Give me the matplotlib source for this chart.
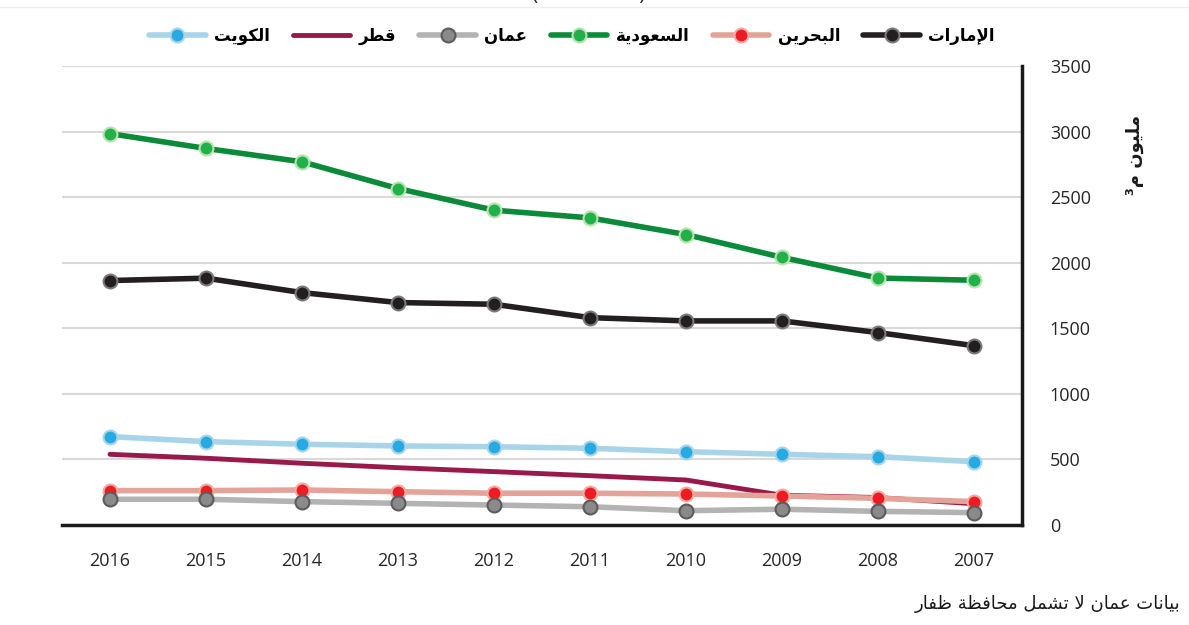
import re
import matplotlib
matplotlib.use("Agg")
import matplotlib.pyplot as plt
from matplotlib.lines import Line2D

# ---- data ----
years = ["2016", "2015", "2014", "2013", "2012", "2011", "2010", "2009", "2008", "2007"]
uae = [1863, 1881, 1771, 1695, 1682, 1580, 1555, 1555, 1466, 1366]
bahrain = [260, 260, 265, 252, 240, 240, 234, 219, 201, 176]
saudi = [2984, 2871, 2769, 2565, 2400, 2341, 2214, 2040, 1882, 1865]
oman = [194, 194, 176, 163, 150, 137, 107, 118, 102, 92]
qatar = [537, 507, 469, 435, 405, 374, 341, 225, 207, 160]
kuwait = [672, 634, 614, 601, 595, 583, 557, 537, 519, 481]

names = ["الإمارات", "البحرين", "السعودية", "عمان", "قطر", "الكويت"]
y_label = "مليون م³"
note = "بيانات عمان لا تشمل محافظة ظفار"
title = "(2016-2007)"

# ---- minimal arabic shaping (matplotlib has no complex text layout) ----
FORMS = {
    'ا': ('\uFE8D', '\uFE8E', None, None),
    'إ': ('\uFE87', '\uFE88', None, None),
    'ب': ('\uFE8F', '\uFE90', '\uFE91', '\uFE92'),
    'ة': ('\uFE93', '\uFE94', None, None),
    'ت': ('\uFE95', '\uFE96', '\uFE97', '\uFE98'),
    'ح': ('\uFEA1', '\uFEA2', '\uFEA3', '\uFEA4'),
    'د': ('\uFEA9', '\uFEAA', None, None),
    'ر': ('\uFEAD', '\uFEAE', None, None),
    'س': ('\uFEB1', '\uFEB2', '\uFEB3', '\uFEB4'),
    'ش': ('\uFEB5', '\uFEB6', '\uFEB7', '\uFEB8'),
    'ط': ('\uFEC1', '\uFEC2', '\uFEC3', '\uFEC4'),
    'ظ': ('\uFEC5', '\uFEC6', '\uFEC7', '\uFEC8'),
    'ع': ('\uFEC9', '\uFECA', '\uFECB', '\uFECC'),
    'ف': ('\uFED1', '\uFED2', '\uFED3', '\uFED4'),
    'ق': ('\uFED5', '\uFED6', '\uFED7', '\uFED8'),
    'ك': ('\uFED9', '\uFEDA', '\uFEDB', '\uFEDC'),
    'ل': ('\uFEDD', '\uFEDE', '\uFEDF', '\uFEE0'),
    'م': ('\uFEE1', '\uFEE2', '\uFEE3', '\uFEE4'),
    'ن': ('\uFEE5', '\uFEE6', '\uFEE7', '\uFEE8'),
    'و': ('\uFEED', '\uFEEE', None, None),
    'ي': ('\uFEF1', '\uFEF2', '\uFEF3', '\uFEF4'),
}
LAM_ALEF = {
    'ا': ('\uFEFB', '\uFEFC', None, None),
    'إ': ('\uFEF9', '\uFEFA', None, None),
}


def ar(text):
    units = []
    i = 0
    while i < len(text):
        c = text[i]
        if c == 'ل' and i + 1 < len(text) and text[i + 1] in LAM_ALEF:
            units.append(LAM_ALEF[text[i + 1]])
            i += 2
            continue
        units.append(FORMS.get(c, c))
        i += 1
    out = []
    for k, u in enumerate(units):
        if isinstance(u, str):
            out.append(u)
            continue
        prev = units[k - 1] if k > 0 else None
        nxt = units[k + 1] if k + 1 < len(units) else None
        jp = isinstance(prev, tuple) and prev[2] is not None
        jn = u[2] is not None and isinstance(nxt, tuple)
        if jp and jn:
            out.append(u[3])
        elif jp:
            out.append(u[1])
        elif jn:
            out.append(u[2])
        else:
            out.append(u[0])
    s = "".join(out)
    # visual order: reverse, keeping digit runs left-to-right
    tokens = re.findall(r'[0-9\u00B2\u00B3]+|.', s)
    return "".join(reversed(tokens))


AR_FONT = ['DejaVu Sans']

# ---- figure ----
fig = plt.figure(figsize=(11.89, 6.25), dpi=100)
ax = fig.add_axes([62 / 1189, 1 - 524.7 / 625, 960 / 1189, (524.7 - 66) / 625])

x = list(range(len(years)))
series = [
    (uae, '#231f20', '#231f20', '#7a7a7a', True),
    (bahrain, '#e3a398', '#ed1c24', '#f2aaa2', True),
    (saudi, '#0b8a3a', '#22b04b', '#b5e3ad', True),
    (oman, '#b3b3b3', '#8a8a8a', '#5c5c5c', True),
    (qatar, '#98194a', None, None, False),
    (kuwait, '#a8d4ea', '#27aae1', '#a8d4ea', True),
]
handles = []
for (vals, lc, fc, ec, mk), nm in zip(series, names):
    if mk:
        h, = ax.plot(x, vals, color=lc, lw=4, marker='o', ms=10,
                     markerfacecolor=fc, markeredgecolor=ec, markeredgewidth=1.5,
                     solid_capstyle='round', label=ar(nm), zorder=3)
    else:
        h, = ax.plot(x, vals, color=lc, lw=3.5, solid_capstyle='round',
                     label=ar(nm), zorder=2.5)
    handles.append(h)

ax.set_xlim(-0.5, len(years) - 0.5)
ax.set_ylim(0, 3500)
ax.set_yticks(range(0, 3501, 500))
ax.set_xticks(x)
ax.set_xticklabels(years)
ax.yaxis.tick_right()
ax.grid(axis='y', color='#d9d9d9', lw=1.5)
ax.set_axisbelow(True)
for side in ['top', 'left']:
    ax.spines[side].set_visible(False)
ax.spines['bottom'].set_color('#1a1a1a')
ax.spines['bottom'].set_linewidth(2.5)
ax.spines['right'].set_color('#1a1a1a')
ax.spines['right'].set_linewidth(2.5)
ax.tick_params(axis='both', length=0, labelsize=13, colors='#262626')
ax.tick_params(axis='x', pad=20)
ax.tick_params(axis='y', pad=20)
for lbl in ax.get_xticklabels() + ax.get_yticklabels():
    lbl.set_fontfamily('Open Sans')

# legend laid out right-to-left: line+marker, then its label
leg = fig.legend(handles[::-1], [h.get_label() for h in handles[::-1]],
                 loc='center', bbox_to_anchor=(572 / 1189, 1 - 36 / 625),
                 ncol=6, frameon=False, markerfirst=True,
                 handlelength=3.4, handletextpad=0.5, columnspacing=1.4,
                 prop={'family': AR_FONT, 'weight': 'bold', 'size': 12})

fig.text(1135 / 1189, 1 - 155 / 625, ar(y_label), rotation=90,
         ha='center', va='center', fontsize=13, fontweight='bold',
         family=AR_FONT, color='#1a1a1a')

fig.text(1180 / 1189, 1 - 604 / 625, ar(note), ha='right', va='center',
         fontsize=13, family=AR_FONT, color='#1a1a1a')

# title is cut off at the top edge in the reference
fig.text(588 / 1189, 1 - 5 / 625, title, ha='center', va='bottom',
         fontsize=15, color='#262626', family='Open Sans')
fig.add_artist(Line2D([0, 1], [1 - 7 / 625, 1 - 7 / 625], color='#eeeeee', lw=1,
                      transform=fig.transFigure))

fig.savefig("out.png", dpi=100)
